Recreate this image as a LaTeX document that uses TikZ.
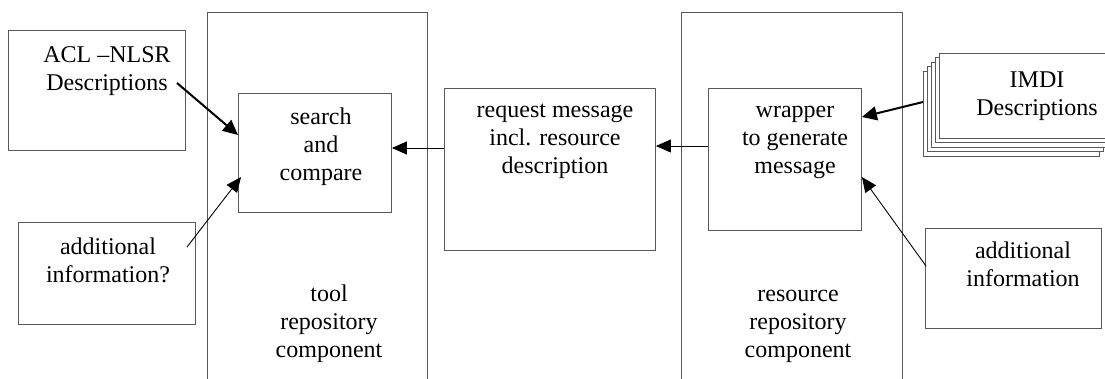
\documentclass[tikz,border=0pt]{standalone}
\usepackage{fontspec}
\setmainfont{Liberation Serif}
\usetikzlibrary{arrows.meta,calc}
\begin{document}
\begin{tikzpicture}[x=1pt,y=-1pt,
  box/.style={draw=black!65,line width=0.9pt,rectangle,inner sep=0pt,anchor=north west,fill=white},
  lbl/.style={font=\fontsize{24}{28}\selectfont,align=center,anchor=base,inner sep=0pt},
  thickarr/.style={line width=2pt,-{Triangle[length=15pt,width=14pt]}},
  thinarr/.style={line width=0.9pt,-{Triangle[length=15pt,width=13pt]}}]
\useasboundingbox (0,0) rectangle (1105,378);
% big component boxes
\node[box,minimum width=220pt,minimum height=380pt] (toolrep) at (207,12) {};
\node[box,minimum width=221pt,minimum height=380pt] (resrep) at (681,12) {};
% left boxes
\node[box,minimum width=177pt,minimum height=120pt] (acl) at (8,30) {};
\node[box,minimum width=177pt,minimum height=102pt] (addl) at (18,222) {};
% inner boxes
\node[box,minimum width=153pt,minimum height=119pt] (search) at (238,93) {};
\node[box,minimum width=211pt,minimum height=162pt] (request) at (444,88) {};
\node[box,minimum width=153pt,minimum height=142pt] (wrapper) at (708,88) {};
% right boxes
\node[box,minimum width=176pt,minimum height=100pt] (addr) at (925,228) {};
% IMDI stack
\draw[draw=black!65,line width=0.9pt,fill=white] (923,71) rectangle (1099,156);
\draw[draw=black!65,line width=0.9pt,fill=white] (927,66.5) rectangle (1103,151.5);
\draw[draw=black!65,line width=0.9pt,fill=white] (931,62) rectangle (1107,147);
\draw[draw=black!65,line width=0.9pt,fill=white] (935,57.5) rectangle (1111,142.5);
\node[box,minimum width=176pt,minimum height=85pt] (imdi) at (939,53) {};
% labels (base = baseline of last line)
\node[lbl] (taclt) at (107,90) {ACL –NLSR\\Descriptions};
\node[lbl] (taddl) at (108,282) {additional\\information?};
\node[lbl] (tsearch) at (321,180) {search\\and\\compare};
\node[lbl] (ttool) at (329,357) {tool\\repository\\component};
\node[lbl] (treq) at (555,173) {request message\\incl. resource\\description};
\node[lbl] (twrap) at (795,173) {wrapper\\to generate\\message};
\node[lbl] (tres) at (798,357) {resource\\repository\\component};
\node[lbl] (timdi) at (1037,115) {IMDI\\Descriptions};
\node[lbl] (taddr) at (1023,286) {additional\\information};
% connector start points
\coordinate (aclout) at (177,83);
\coordinate (addlout) at (187,247);
% connectors
\draw[thickarr] (aclout) -- ($(search.north west)+(0,42)$);
\draw[thinarr] (addlout) -- ($(search.north west)+(3,84)$);
\draw[thinarr] ($(request.north west)+(0,60)$) -- ($(search.north east)+(0,55)$);
\draw[thinarr] ($(wrapper.north west)+(0,58)$) -- ($(request.north east)+(0,58)$);
\draw[thickarr] ($(imdi.north west)+(-16,49)$) -- ($(wrapper.north east)+(0,29)$);
\draw[thinarr] ($(addr.north west)+(1,38)$) -- ($(wrapper.north east)+(0,89)$);
\end{tikzpicture}
\end{document}
